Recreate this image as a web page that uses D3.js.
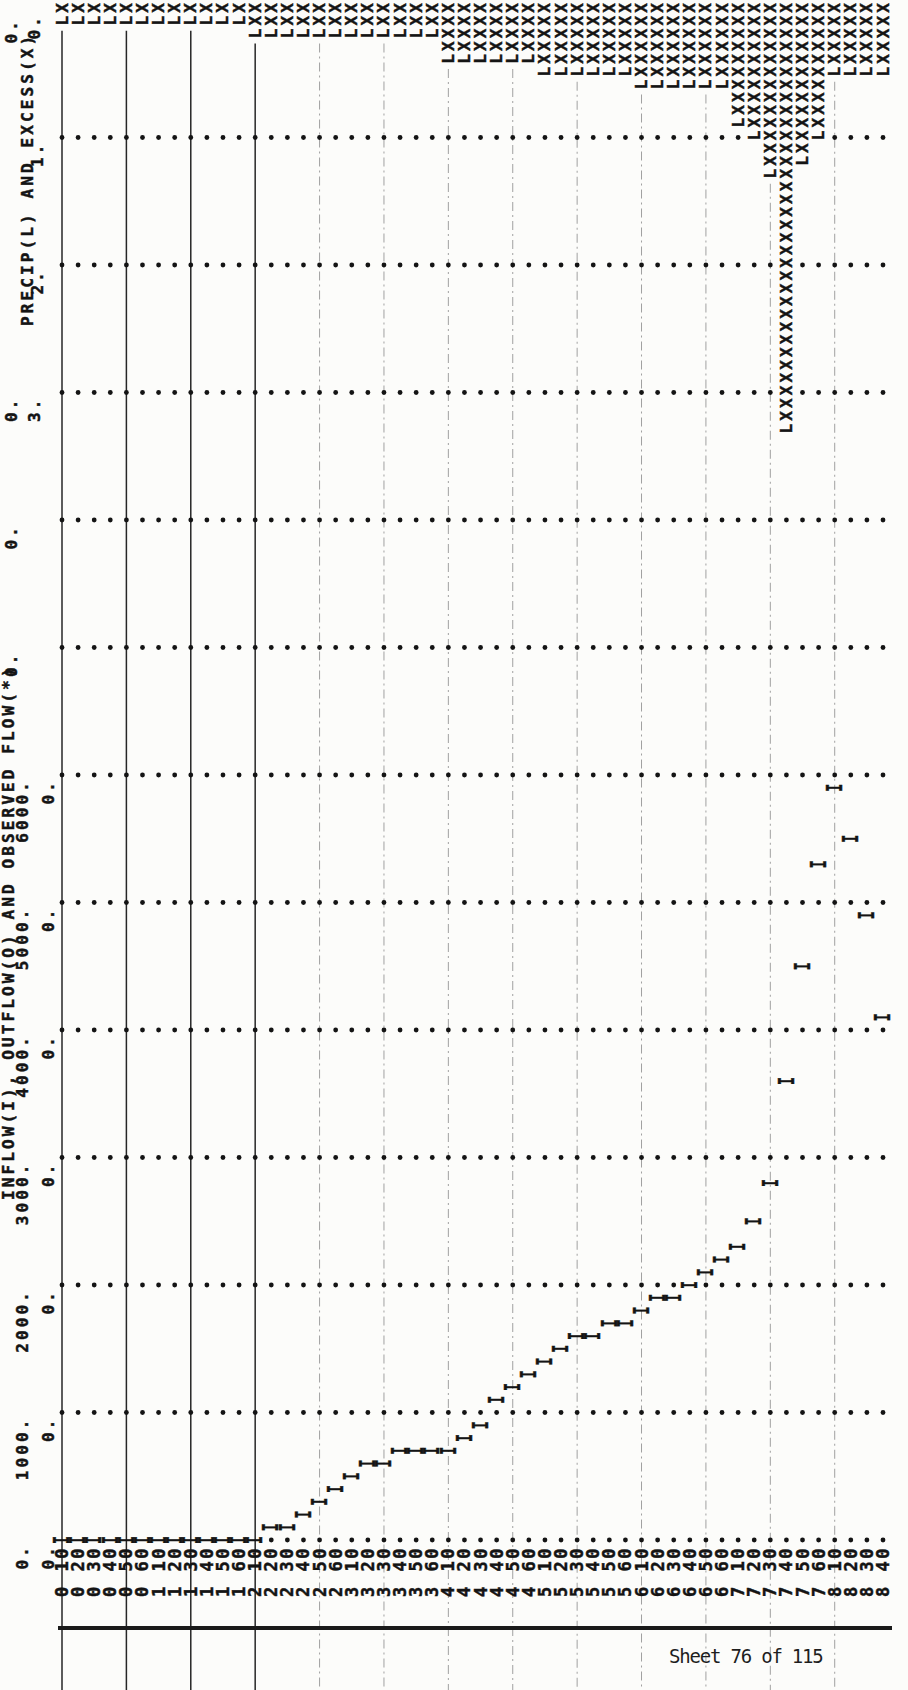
<!DOCTYPE html>
<html>
<head>
<meta charset="utf-8">
<script src="https://cdn.jsdelivr.net/npm/d3@7"></script>
<style>
  body { margin: 0; background: #fff; }
  svg { display: block; background: #fcfcfa; }
  .pr { font-family: "DejaVu Sans Mono", "Liberation Mono", monospace; font-weight: bold;
        fill: #141414; stroke: #141414; stroke-width: 0.45px; }
</style>
</head>
<body>
<div id="chart"></div>
<script>
// time step labels (hour digit + ten-minute step), one per printer line
var timeLabels = ["010","020","030","040","050","060",
                  "110","120","130","140","150","160",
                  "210","220","230","240","250","260",
                  "310","320","330","340","350","360",
                  "410","420","430","440","450","460",
                  "510","520","530","540","550","560",
                  "610","620","630","640","650","660",
                  "710","720","730","740","750","760",
                  "810","820","830","840"];

// precipitation (L) and rainfall excess (X), inches per step
var precip = [0.1,0.1,0.1,0.1,0.1,0.1,0.1,0.1,0.1,0.1,0.1,0.1,
              0.2,0.2,0.2,0.2,0.2,0.2,0.2,0.2,0.2,0.2,0.2,0.2,
              0.4,0.4,0.4,0.4,0.4,0.4,
              0.5,0.5,0.5,0.5,0.5,0.5,
              0.6,0.6,0.6,0.6,0.6,0.6,
              0.9,1.0,1.3,3.3,1.2,1.0,
              0.5,0.5,0.5,0.5];
var excess = [0,0,0,0,0,0,0,0,0,0,0,0,
              0.1,0.1,0.1,0.1,0.1,0.1,0.1,0.1,0.1,0.1,0.1,0.1,
              0.3,0.3,0.3,0.3,0.3,0.3,
              0.4,0.4,0.4,0.4,0.4,0.4,
              0.5,0.5,0.5,0.5,0.5,0.5,
              0.8,0.9,1.2,3.2,1.1,0.9,
              0.4,0.4,0.4,0.4];

// inflow hydrograph (I), cfs
var inflow = [0,0,0,0,0,0,0,0,0,0,0,0,0,
              100,100,200,300,400,500,600,600,700,700,700,700,
              800,900,1100,1200,1300,1400,1500,1600,1600,1700,1700,
              1800,1900,1900,2000,2100,2200,2300,2500,2800,
              3600,4500,5300,5900,5500,4900,4100];

var flowTicks = [0,1000,2000,3000,4000,5000,6000,7000,8000,9000,10000,11000];
var flowTickLabels = ["0.","1000.","2000.","3000.","4000.","5000.","6000."];
var precipTickLabels = ["0.","1.","2.","3."];

var width = 908, height = 1690;
var step = 12.75;   // one printer character along the value axis
var fs = 16;

var x = d3.scaleLinear().domain([0, 51]).range([62, 883]);
var yFlow = d3.scaleLinear().domain([0, 11000]).range([1540, 137.5]);
var yPrecip = d3.scaleLinear().domain([0, 1]).range([8, 135.5]);

var svg = d3.select("#chart").append("svg")
    .attr("width", width)
    .attr("height", height);

// rotated printer text, reads bottom to top
function vtext(g, px, py, str, anchor, size, extra) {
  size = size || fs;
  return g.append("text")
      .attr("class", "pr")
      .attr("transform", "translate(" + px + "," + py + ") rotate(-90)" + (extra || ""))
      .attr("text-anchor", anchor)
      .attr("dominant-baseline", "central")
      .style("font-size", size + "px")
      .style("letter-spacing", str.length > 1 ? (step - size * 0.602) + "px" : null)
      .style("white-space", "pre")
      .text(str);
}

// form rulings every 4 printer lines
var rules = svg.append("g");
d3.range(0, 52, 4).forEach(function(j) {
  rules.append("line")
      .attr("x1", x(j)).attr("x2", x(j))
      .attr("y1", yPrecip(precip[j]) + 10).attr("y2", height)
      .attr("stroke", j <= 12 ? "#262626" : "#a0a0a0")
      .attr("stroke-width", j <= 12 ? 1.5 : 1)
      .attr("stroke-dasharray", j <= 12 ? null : "9,4,2,4");
});

// cells taken by plotted characters
var taken = {};
var marks = svg.append("g");

precip.forEach(function(p, j) {
  var np = Math.round(p * 10), ne = Math.round(excess[j] * 10);
  for (var r = 0; r <= np; r++) {
    var ch = r <= ne ? "X" : (r === np ? "L" : null);
    if (!ch) continue;
    taken["p" + j + "_" + r] = true;
    vtext(marks, x(j), yPrecip(r / 10), ch, "middle");
  }
});

inflow.forEach(function(v, j) {
  taken["f" + j + "_" + v] = true;
  vtext(marks, x(j), yFlow(v), "I", "middle", 21, " scale(0.62,1)");
});

// dotted grid rows
var dots = svg.append("g");
flowTicks.forEach(function(t) {
  d3.range(52).forEach(function(j) {
    if (taken["f" + j + "_" + t]) return;
    var pr = Math.round((yFlow(t) - yPrecip(0)) / step);
    if (taken["p" + j + "_" + pr]) return;
    dots.append("circle")
        .attr("cx", x(j)).attr("cy", yFlow(t))
        .attr("r", 2.4).attr("fill", "#141414");
  });
});

// time labels along the bottom
var labels = svg.append("g");
timeLabels.forEach(function(s, j) {
  vtext(labels, x(j), 1597, s.charAt(0) + " " + s.slice(1), "start", 17);
});

// heavy rule under the labels
svg.append("line")
    .attr("x1", 58).attr("x2", 892)
    .attr("y1", 1628).attr("y2", 1628)
    .attr("stroke", "#1a1a1a").attr("stroke-width", 4);

// scale lines on the left
var head = svg.append("g");
flowTickLabels.forEach(function(s, k) {
  vtext(head, 22, yFlow(flowTicks[k]) + 4, s, "end");
  vtext(head, 48, yFlow(flowTicks[k]) + 4, "0.", "end");
});
precipTickLabels.forEach(function(s, k) {
  vtext(head, k === 0 || k === 3 ? 34 : 37, yPrecip(k) + 6, s, "end");
});
vtext(head, 11, 18, "0.", "end");
vtext(head, 11, yFlow(9000) + 4, "0.", "end");
vtext(head, 11, yFlow(8000) + 4, "0.", "end");
vtext(head, 11, yFlow(7000) + 4, "0.", "end");
vtext(head, 8, 1200, "INFLOW(I), OUTFLOW(O) AND OBSERVED FLOW(*)", "start");
vtext(head, 27, 326, "PRECIP(L) AND EXCESS(X)", "start");

svg.append("text")
    .attr("x", 669).attr("y", 1663)
    .style("font-family", "\"DejaVu Sans Mono\", monospace")
    .style("font-size", "19px")
    .style("letter-spacing", "-1.2px")
    .style("fill", "#1e1e1e")
    .text("Sheet 76 of 115");
</script>
</body>
</html>
